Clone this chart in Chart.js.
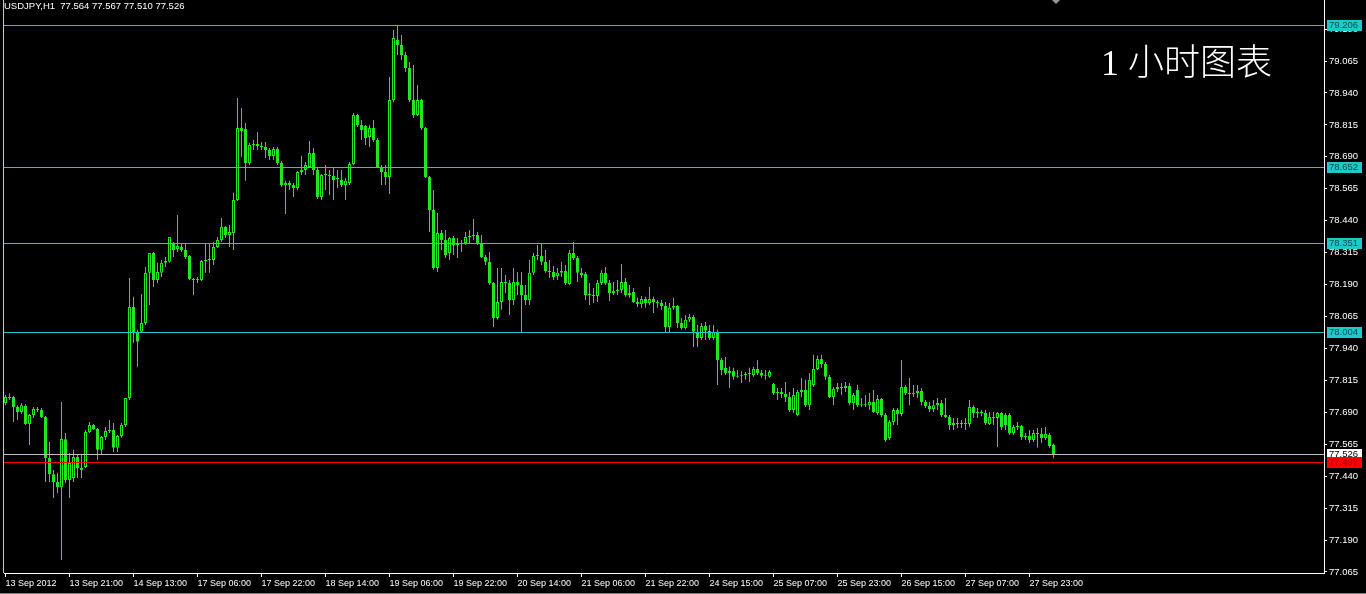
<!DOCTYPE html>
<html><head><meta charset="utf-8">
<script src="https://cdn.jsdelivr.net/npm/chart.js@4.4.1/dist/chart.umd.min.js"></script>
<style>
html,body{margin:0;padding:0;background:#000;overflow:hidden;}
#wrap{position:relative;width:1366px;height:594px;background:#000;}
#c{position:absolute;left:0;top:0;}
#hdr{position:absolute;left:4px;top:0px;color:#fff;font-family:"Liberation Sans",Arial,sans-serif;font-size:9.5px;line-height:12px;white-space:pre;}
#ttl{position:absolute;left:1101px;top:45px;color:#fff;font-family:"Liberation Serif","Noto Sans CJK SC",serif;font-weight:300;font-size:36px;line-height:36px;white-space:pre;}
</style></head>
<body><div id="wrap"><canvas id="c" width="1366" height="594"></canvas>
<div id="hdr"></div><div id="ttl"></div></div>
<script>
const symbolInfo = "USDJPY,H1";
const chartTitle = "1 小时图表";
const opens = [77.726,77.750,77.750,77.711,77.691,77.715,77.644,77.679,77.703,77.699,
77.672,77.511,77.448,77.417,77.397,77.585,77.425,77.433,77.515,77.472,
77.476,77.613,77.640,77.625,77.543,77.593,77.617,77.621,77.551,77.597,
77.640,77.746,78.102,78.001,78.005,78.040,78.236,78.314,78.208,78.236,
78.275,78.279,78.349,78.329,78.337,78.325,78.302,78.212,78.208,78.208,
78.282,78.286,78.286,78.337,78.365,78.415,78.384,78.392,78.521,78.803,
78.799,78.666,78.736,78.740,78.732,78.729,78.717,78.693,78.721,78.666,
78.580,78.588,78.580,78.568,78.631,78.639,78.650,78.705,78.639,78.533,
78.619,78.619,78.615,78.603,78.599,78.580,78.588,78.662,78.854,78.815,
78.811,78.768,78.803,78.756,78.650,78.631,78.611,78.913,79.147,79.128,
79.089,79.038,78.913,78.854,78.913,78.803,78.611,78.482,78.255,78.392,
78.365,78.314,78.372,78.345,78.349,78.353,78.376,78.380,78.384,78.353,
78.298,78.279,78.196,78.059,78.122,78.200,78.196,78.130,78.200,78.188,
78.149,78.130,78.236,78.302,78.302,78.279,78.243,78.239,78.224,78.236,
78.243,78.192,78.314,78.294,78.236,78.232,78.149,78.149,78.145,78.196,
78.236,78.196,78.157,78.165,78.169,78.200,78.149,78.161,78.122,78.114,
78.134,78.118,78.134,78.122,78.118,78.106,78.024,78.099,78.106,78.040,
78.020,78.052,78.063,78.005,77.981,78.028,78.009,77.981,78.005,77.895,
77.864,77.844,77.852,77.829,77.833,77.836,77.840,77.836,77.860,77.844,
77.833,77.829,77.801,77.766,77.770,77.762,77.750,77.699,77.679,77.770,
77.777,77.718,77.797,77.860,77.899,77.879,77.829,77.750,77.781,77.789,
77.785,77.793,77.726,77.777,77.718,77.722,77.718,77.730,77.687,77.742,
77.679,77.589,77.652,77.699,77.683,77.789,77.766,77.762,77.766,77.774,
77.730,77.715,77.703,77.718,77.726,77.679,77.672,77.640,77.648,77.644,
77.648,77.644,77.711,77.687,77.691,77.687,77.644,77.672,77.668,77.687,
77.679,77.679,77.609,77.633,77.636,77.593,77.597,77.582,77.609,77.605,
77.589,77.601,77.564];
const highs = [77.758,77.765,77.754,77.718,77.726,77.722,77.683,77.711,77.711,77.707,
77.676,77.574,77.464,77.452,77.730,77.609,77.531,77.543,77.523,77.523,
77.621,77.652,77.644,77.629,77.597,77.633,77.660,77.648,77.601,77.648,
77.746,78.216,78.142,78.013,78.153,78.259,78.314,78.318,78.275,78.286,
78.298,78.376,78.357,78.462,78.349,78.349,78.306,78.216,78.220,78.286,
78.353,78.353,78.357,78.376,78.451,78.419,78.423,78.549,78.920,78.881,
78.823,78.744,78.756,78.787,78.748,78.748,78.725,78.729,78.729,78.674,
78.596,78.596,78.588,78.635,78.694,78.670,78.752,78.725,78.646,78.623,
78.658,78.639,78.646,78.639,78.639,78.607,78.670,78.862,78.858,78.834,
78.815,78.815,78.834,78.764,78.658,78.658,79.003,79.187,79.206,79.167,
79.100,79.061,79.050,78.971,78.917,78.807,78.615,78.560,78.470,78.404,
78.404,78.376,78.380,78.372,78.365,78.396,78.404,78.447,78.396,78.384,
78.306,78.318,78.200,78.255,78.255,78.228,78.208,78.255,78.239,78.239,
78.188,78.286,78.314,78.345,78.349,78.325,78.286,78.263,78.255,78.279,
78.267,78.325,78.357,78.302,78.255,78.239,78.196,78.177,78.208,78.247,
78.259,78.208,78.200,78.208,78.271,78.216,78.188,78.177,78.138,78.145,
78.142,78.181,78.142,78.130,78.130,78.122,78.118,78.138,78.110,78.059,
78.071,78.075,78.071,78.032,78.040,78.044,78.032,78.032,78.013,77.903,
77.907,77.868,77.864,77.856,77.852,77.848,77.864,77.868,77.895,77.856,
77.856,77.856,77.805,77.785,77.785,77.809,77.770,77.785,77.777,77.824,
77.817,77.844,77.915,77.911,77.915,77.887,77.836,77.789,77.805,77.805,
77.809,77.805,77.766,77.797,77.746,77.758,77.766,77.777,77.758,77.746,
77.687,77.660,77.707,77.707,77.895,77.797,77.824,77.797,77.797,77.785,
77.738,77.730,77.738,77.746,77.738,77.746,77.679,77.668,77.668,77.660,
77.668,77.738,77.718,77.707,77.699,77.699,77.691,77.691,77.691,77.691,
77.687,77.687,77.640,77.652,77.640,77.609,77.621,77.621,77.629,77.629,
77.633,77.609,77.567];
const lows = [77.718,77.738,77.652,77.660,77.683,77.640,77.562,77.668,77.691,77.668,
77.417,77.417,77.355,77.374,77.112,77.413,77.355,77.417,77.433,77.433,
77.472,77.609,77.621,77.504,77.523,77.582,77.609,77.535,77.535,77.590,
77.633,77.738,77.962,77.868,78.001,78.032,78.110,78.181,78.196,78.220,
78.259,78.275,78.298,78.318,78.318,78.290,78.208,78.149,78.196,78.204,
78.236,78.236,78.267,78.333,78.357,78.372,78.337,78.325,78.517,78.690,
78.596,78.658,78.717,78.717,78.717,78.686,78.678,78.678,78.658,78.572,
78.466,78.560,78.533,78.560,78.619,78.619,78.646,78.619,78.525,78.521,
78.560,78.541,78.521,78.568,78.572,78.521,78.580,78.658,78.807,78.756,
78.736,78.729,78.748,78.646,78.580,78.580,78.545,78.905,79.089,79.069,
79.022,78.905,78.842,78.850,78.795,78.607,78.396,78.247,78.239,78.325,
78.294,78.286,78.306,78.294,78.318,78.345,78.353,78.365,78.345,78.294,
78.267,78.188,78.024,78.052,78.091,78.157,78.071,78.110,78.149,78.001,
78.110,78.110,78.228,78.286,78.267,78.236,78.216,78.208,78.208,78.220,
78.188,78.188,78.286,78.200,78.216,78.130,78.110,78.118,78.122,78.188,
78.188,78.126,78.149,78.149,78.157,78.142,78.138,78.118,78.102,78.099,
78.099,78.110,78.079,78.099,78.091,78.001,78.001,78.091,78.020,78.013,
78.013,78.044,77.946,77.946,77.973,77.973,77.973,77.973,77.797,77.836,
77.836,77.785,77.817,77.825,77.805,77.817,77.809,77.829,77.836,77.825,
77.817,77.825,77.758,77.738,77.746,77.730,77.691,77.687,77.675,77.750,
77.711,77.699,77.789,77.856,77.864,77.817,77.746,77.718,77.770,77.758,
77.770,77.718,77.699,77.711,77.711,77.711,77.699,77.687,77.679,77.672,
77.574,77.582,77.640,77.640,77.675,77.758,77.718,77.750,77.746,77.718,
77.707,77.691,77.691,77.699,77.672,77.668,77.621,77.621,77.629,77.629,
77.621,77.633,77.668,77.668,77.675,77.640,77.640,77.640,77.554,77.621,
77.621,77.601,77.601,77.621,77.582,77.582,77.570,77.574,77.551,77.570,
77.582,77.551,77.510];
const closes = [77.750,77.746,77.711,77.691,77.718,77.644,77.679,77.703,77.699,77.672,
77.511,77.449,77.417,77.398,77.586,77.425,77.492,77.515,77.472,77.464,
77.613,77.640,77.625,77.543,77.593,77.617,77.621,77.551,77.597,77.640,
77.746,78.102,78.001,77.966,78.040,78.235,78.314,78.208,78.239,78.275,
78.282,78.376,78.325,78.341,78.325,78.298,78.212,78.208,78.212,78.282,
78.286,78.290,78.337,78.365,78.416,78.384,78.396,78.521,78.803,78.791,
78.666,78.736,78.740,78.732,78.729,78.717,78.693,78.721,78.666,78.580,
78.588,78.580,78.568,78.631,78.639,78.658,78.705,78.639,78.533,78.619,
78.623,78.615,78.599,78.607,78.580,78.596,78.662,78.854,78.815,78.795,
78.764,78.803,78.756,78.650,78.631,78.611,78.913,79.155,79.128,79.089,
79.038,78.913,78.854,78.913,78.803,78.611,78.482,78.255,78.392,78.365,
78.306,78.372,78.345,78.349,78.353,78.376,78.380,78.384,78.353,78.298,
78.279,78.196,78.059,78.122,78.200,78.196,78.130,78.200,78.188,78.149,
78.130,78.236,78.302,78.306,78.279,78.243,78.239,78.220,78.236,78.243,
78.196,78.314,78.294,78.236,78.228,78.149,78.153,78.145,78.196,78.236,
78.196,78.157,78.165,78.169,78.200,78.149,78.157,78.122,78.114,78.134,
78.118,78.134,78.122,78.118,78.106,78.024,78.099,78.106,78.040,78.020,
78.052,78.063,78.005,77.981,78.028,78.009,77.981,78.005,77.895,77.856,
77.844,77.852,77.829,77.833,77.836,77.840,77.844,77.860,77.844,77.833,
77.836,77.848,77.766,77.770,77.762,77.750,77.699,77.758,77.770,77.777,
77.718,77.817,77.860,77.899,77.879,77.829,77.750,77.781,77.789,77.785,
77.793,77.726,77.758,77.718,77.722,77.718,77.730,77.691,77.742,77.679,
77.582,77.652,77.699,77.683,77.789,77.766,77.762,77.766,77.774,77.730,
77.715,77.703,77.718,77.726,77.679,77.672,77.640,77.648,77.644,77.648,
77.644,77.711,77.687,77.691,77.687,77.648,77.672,77.668,77.687,77.633,
77.640,77.609,77.633,77.636,77.593,77.597,77.582,77.609,77.605,77.589,
77.605,77.558,77.526];
const xTickBars = [0,16,32,48,64,80,96,112,128,144,160,176,192,208,224,240,256];
const xTickLabels = ["13 Sep 2012","13 Sep 21:00","14 Sep 13:00","17 Sep 06:00","17 Sep 22:00","18 Sep 14:00","19 Sep 06:00","19 Sep 22:00","20 Sep 14:00","21 Sep 06:00","21 Sep 22:00","24 Sep 15:00","25 Sep 07:00","25 Sep 23:00","26 Sep 15:00","27 Sep 07:00","27 Sep 23:00"];
const yTickLabels = ["77.065","77.190","77.315","77.440","77.565","77.690","77.815","77.940","78.065","78.190","78.315","78.440","78.565","78.690","78.815","78.940","79.065","79.190"];
const levelLines = [79.206, 78.652, 78.351, 78.004];
const bidPrice = 77.526;
const redLine = 77.497;

const GREEN = '#22e622';
const CYAN = '#1ccaca';
const FONT = '"Liberation Sans", Arial, sans-serif';

const last = closes.length - 1;
document.getElementById('hdr').textContent =
  symbolInfo + "  " + [opens[last], highs[last], lows[last], closes[last]].map(v => v.toFixed(3)).join(" ");
document.getElementById('ttl').textContent = chartTitle;

const bodyData = closes.map((c, i) => ({x: i, y: [opens[i], c]}));
const wickData = lows.map((l, i) => ({x: i, y: [l, highs[i]]}));

const mt4 = {
  id: 'mt4',
  beforeDraw(chart) {
    const ctx = chart.ctx;
    ctx.save(); ctx.fillStyle = '#000'; ctx.fillRect(0, 0, chart.width, chart.height); ctx.restore();
  },
  afterDatasetsDraw(chart) {
    const {ctx, chartArea: a, scales: {x, y}} = chart;
    ctx.save();
    const hline = (v, col) => {
      const py = Math.round(y.getPixelForValue(v));
      ctx.fillStyle = col; ctx.fillRect(a.left, py, a.right - a.left, 1);
    };
    levelLines.forEach(v => hline(v, CYAN));
    hline(bidPrice, '#c0c0c0');
    hline(redLine, '#ff0000');
    ctx.fillStyle = '#c8c8c8';
    ctx.fillRect(a.left - 1, 0, 1, a.bottom);
    // chart shift marker
    const sx = Math.round(x.getPixelForValue(last + 0.5));
    ctx.fillStyle = '#9a9a9a';
    ctx.beginPath(); ctx.moveTo(sx - 4, 0); ctx.lineTo(sx + 4, 0); ctx.lineTo(sx, 4); ctx.closePath(); ctx.fill();
    ctx.restore();
  },
  afterDraw(chart) {
    const {ctx, chartArea: a, scales: {y}} = chart;
    ctx.save();
    ctx.font = '9.5px ' + FONT;
    ctx.textBaseline = 'middle';
    const box = (v, bg, fg) => {
      const py = Math.round(y.getPixelForValue(v));
      ctx.fillStyle = bg; ctx.fillRect(a.right + 3, py - 5, 35, 11);
      ctx.fillStyle = fg; ctx.fillText(v.toFixed(3), a.right + 5, py + 0.5);
    };
    levelLines.forEach(v => box(v, CYAN, '#0c4c4c'));
    box(bidPrice, '#ffffff', '#000000');
    box(redLine, '#ff0000', '#8a0000');
    ctx.fillStyle = '#808080';
    ctx.fillRect(0, chart.height - 1, chart.width, 1);
    ctx.restore();
  }
};

new Chart(document.getElementById('c'), {
  type: 'bar',
  data: {
    datasets: [
      { label: 'body', data: bodyData, grouped: false, order: 0,
        barThickness: 3, borderWidth: 1, borderSkipped: false, inflateAmount: 0, minBarLength: 1,
        borderColor: GREEN,
        backgroundColor: c => { const i = c.dataIndex; return (i !== undefined && closes[i] > opens[i]) ? '#000000' : GREEN; } },
      { label: 'wick', data: wickData, grouped: false, order: 1,
        barThickness: 1, borderWidth: 0, inflateAmount: 0, minBarLength: 1,
        backgroundColor: GREEN }
    ]
  },
  options: {
    responsive: false, animation: false, devicePixelRatio: 1,
    layout: { padding: { left: 4, right: 0, top: 0, bottom: 0 }, autoPadding: false },
    plugins: { legend: { display: false }, tooltip: { enabled: false }, title: { display: false } },
    scales: {
      x: {
        type: 'linear', min: -0.375, max: 329.625, offset: false,
        afterBuildTicks: s => { s.ticks = xTickBars.map(v => ({ value: v })); },
        afterFit: s => { s.height = 21; s.paddingLeft = 0; s.paddingRight = 0; },
        ticks: { callback: (v, i) => xTickLabels[i], align: 'start', autoSkip: false, maxRotation: 0, minRotation: 0,
                 color: '#fff', font: { family: FONT, size: 9 }, padding: 1 },
        grid: { drawOnChartArea: false, drawTicks: true, tickLength: 4, color: '#fff', offset: false },
        border: { display: true, color: '#fff', width: 1 }
      },
      y: {
        type: 'linear', position: 'right', min: 77.061, max: 79.304,
        afterBuildTicks: s => { s.ticks = yTickLabels.map(t => ({ value: parseFloat(t) })); },
        afterFit: s => { s.width = 42; s.paddingTop = 0; s.paddingBottom = 0; },
        ticks: { callback: (v, i) => yTickLabels[i], autoSkip: false, color: '#fff', font: { family: FONT, size: 9.5 }, padding: 2 },
        grid: { drawOnChartArea: false, drawTicks: true, tickLength: 3, color: '#fff' },
        border: { display: true, color: '#fff', width: 1 }
      }
    }
  },
  plugins: [mt4]
});
</script></body></html>
